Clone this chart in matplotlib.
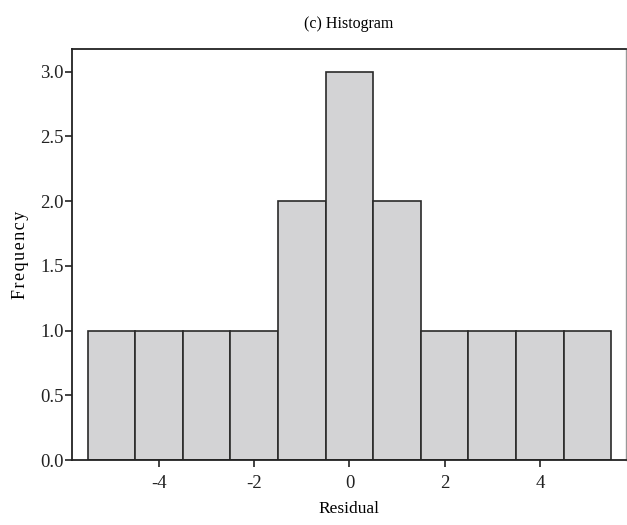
import matplotlib
matplotlib.use("Agg")
import matplotlib.pyplot as plt
import numpy as np

plt.rcParams['font.family'] = ['Liberation Serif', 'DejaVu Serif']

# Residual bin centres and their frequencies
bin_centers = [-5, -4, -3, -2, -1, 0, 1, 2, 3, 4, 5]
frequencies = [1, 1, 1, 1, 2, 3, 2, 1, 1, 1, 1]
x_ticks = [-4, -2, 0, 2, 4]
y_ticks = [0.0, 0.5, 1.0, 1.5, 2.0, 2.5, 3.0]

fig = plt.figure(figsize=(6.27, 5.25), dpi=100)
ax = fig.add_axes([0.1148, 0.1238, 0.8836, 0.7829])

ax.bar(bin_centers, frequencies, width=1.0, color='#d3d3d5',
       edgecolor='#2a2a2a', linewidth=1.2, zorder=2)

ax.set_xlim(-5.83, 5.81)
ax.set_ylim(0, 3.176)
ax.set_xticks(x_ticks)
ax.set_xticklabels([str(v) for v in x_ticks])
ax.set_yticks(y_ticks)
ax.set_yticklabels([f"{v:.1f}" for v in y_ticks])

for side in ['left', 'bottom', 'top']:
    ax.spines[side].set_color('#222222')
    ax.spines[side].set_linewidth(1.3)
ax.spines['right'].set_color('#999999')
ax.spines['right'].set_linewidth(1.0)

ax.tick_params(axis='both', direction='out', length=5, width=1.2,
               colors='#222222', labelsize=13.5)
ax.tick_params(axis='x', pad=6)
ax.tick_params(axis='y', pad=1)

ax.set_title('(c) Histogram', fontsize=11.5, pad=15)
ax.set_xlabel('Residual', fontsize=12.5, labelpad=6)
# letter-spaced axis label
ax.set_ylabel('\u200a'.join('Frequency'), fontsize=13, labelpad=8)

fig.savefig('out.png', dpi=100)
